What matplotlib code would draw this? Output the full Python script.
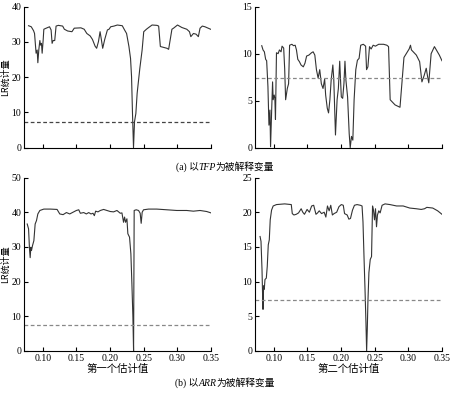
import numpy as np
import matplotlib
matplotlib.use('Agg')
import matplotlib.pyplot as plt
from matplotlib.offsetbox import TextArea, HPacker, AnchoredOffsetbox

plt.rcParams['font.family'] = ['Liberation Serif', 'Noto Sans CJK SC']

# 临界值 (5%)
crit = 7.4

# (a) TFP, 第一个估计值
tfp1_x = [0.0788, 0.0828, 0.0862, 0.0877, 0.0892, 0.0900, 0.0916, 0.0926, 0.0940, 0.0956,
          0.0966, 0.0980, 0.0990, 0.1005, 0.1015, 0.1050, 0.1074, 0.1100, 0.1123, 0.1138,
          0.1153, 0.1177, 0.1197, 0.1231, 0.1295, 0.1320, 0.1370, 0.1433, 0.1467, 0.1566,
          0.1615, 0.1654, 0.1704, 0.1738, 0.1777, 0.1800, 0.1827, 0.1851, 0.1870, 0.1890,
          0.1920, 0.1960, 0.1984, 0.2009, 0.2058, 0.2107, 0.2181, 0.2215, 0.2245, 0.2280,
          0.2304, 0.2319, 0.2333, 0.2348, 0.2363, 0.2383, 0.2402, 0.2442, 0.2476, 0.2500,
          0.2540, 0.2574, 0.2624, 0.2697, 0.2722, 0.2747, 0.2845, 0.2870, 0.2919, 0.2943,
          0.3002, 0.3066, 0.3140, 0.3180, 0.3200, 0.3239, 0.3278, 0.3312, 0.3337, 0.3371,
          0.3410, 0.3494]
tfp1_y = [34.6, 34.3, 33.2, 32.4, 28.7, 26.8, 27.7, 24.1, 27.7, 30.4,
          29.1, 29.6, 26.8, 30.5, 33.6, 33.9, 34.1, 34.3, 33.4, 29.6,
          30.4, 30.4, 34.5, 34.7, 34.5, 33.6, 33.1, 32.9, 33.9, 34.0,
          33.6, 32.4, 31.7, 30.7, 28.8, 28.2, 30.1, 32.9, 30.7, 28.2,
          30.7, 33.4, 33.6, 34.3, 34.5, 34.8, 34.6, 33.4, 32.4, 28.7,
          25.3, 20.1, 9.7, 0.0, 7.4, 9.7, 15.4, 22.5, 27.7, 32.9,
          33.6, 34.1, 34.8, 34.7, 34.5, 28.7, 28.2, 27.9, 33.6, 33.9,
          34.8, 34.1, 33.6, 32.9, 31.5, 32.4, 32.2, 31.5, 33.9, 34.5,
          34.3, 33.6]

# (a) TFP, 第二个估计值
tfp2_x = [0.0820, 0.0839, 0.0859, 0.0878, 0.0893, 0.0912, 0.0927, 0.0942, 0.0951, 0.0966,
          0.0981, 0.0990, 0.1005, 0.1015, 0.1024, 0.1039, 0.1063, 0.1083, 0.1107, 0.1122,
          0.1146, 0.1161, 0.1175, 0.1200, 0.1219, 0.1234, 0.1268, 0.1292, 0.1317, 0.1336,
          0.1356, 0.1380, 0.1404, 0.1438, 0.1463, 0.1487, 0.1521, 0.1560, 0.1584, 0.1609,
          0.1633, 0.1658, 0.1682, 0.1706, 0.1731, 0.1755, 0.1770, 0.1794, 0.1813, 0.1833,
          0.1852, 0.1877, 0.1891, 0.1916, 0.1940, 0.1959, 0.1979, 0.1989, 0.2003, 0.2023,
          0.2042, 0.2057, 0.2071, 0.2096, 0.2120, 0.2135, 0.2154, 0.2174, 0.2193, 0.2218,
          0.2242, 0.2267, 0.2291, 0.2330, 0.2364, 0.2378, 0.2398, 0.2422, 0.2446, 0.2476,
          0.2510, 0.2558, 0.2631, 0.2680, 0.2705, 0.2729, 0.2802, 0.2875, 0.2934, 0.3011,
          0.3031, 0.3045, 0.3118, 0.3167, 0.3201, 0.3235, 0.3265, 0.3289, 0.3303, 0.3338,
          0.3387, 0.3460, 0.3499]
tfp2_y = [10.85, 10.4, 10.2, 9.4, 9.25, 6.5, 2.4, 4.0, 0.1, 3.65,
          7.0, 5.1, 5.6, 5.25, 3.0, 10.1, 10.0, 10.4, 10.2, 10.8,
          10.6, 8.4, 5.1, 6.3, 6.8, 10.9, 11.0, 10.85, 10.9, 10.4,
          9.4, 9.15, 8.8, 8.6, 9.0, 9.75, 9.85, 10.1, 10.2, 9.85,
          8.3, 7.4, 8.3, 6.8, 6.3, 7.3, 5.6, 4.2, 3.7, 5.1,
          7.2, 8.8, 7.2, 1.35, 5.1, 6.3, 9.2, 7.55, 5.4, 5.25,
          6.85, 9.2, 7.2, 5.4, 1.5, 0.0, 1.2, 0.8, 5.1, 8.3,
          9.3, 9.5, 10.9, 11.0, 10.8, 8.3, 8.6, 10.75, 10.5, 10.9,
          10.8, 11.0, 11.0, 10.9, 10.75, 5.1, 4.55, 4.3, 9.6, 10.5,
          10.9, 10.4, 9.85, 9.15, 7.0, 7.7, 8.45, 7.4, 6.9, 10.0,
          10.75, 9.85, 9.25]

# (b) ARR, 第一个估计值
arr1_x = [0.0768, 0.0788, 0.0802, 0.0812, 0.0822, 0.0832, 0.0847, 0.0867, 0.0886, 0.0906,
          0.0926, 0.0956, 0.1015, 0.1114, 0.1212, 0.1252, 0.1301, 0.1351, 0.1400, 0.1459,
          0.1499, 0.1534, 0.1558, 0.1608, 0.1647, 0.1682, 0.1716, 0.1746, 0.1766, 0.1785,
          0.1820, 0.1855, 0.1904, 0.1953, 0.2003, 0.2052, 0.2102, 0.2151, 0.2176, 0.2200,
          0.2215, 0.2230, 0.2250, 0.2264, 0.2289, 0.2309, 0.2324, 0.2339, 0.2349, 0.2358,
          0.2388, 0.2423, 0.2447, 0.2462, 0.2477, 0.2497, 0.2571, 0.2694, 0.2843, 0.2991,
          0.3139, 0.3238, 0.3337, 0.3436, 0.3500]
arr1_y = [36.6, 35.2, 29.4, 26.9, 29.9, 29.0, 30.4, 31.8, 36.6, 37.6,
          39.5, 40.5, 40.9, 40.9, 40.8, 39.5, 39.3, 39.9, 39.5, 40.1,
          40.5, 40.7, 39.7, 39.9, 39.5, 39.9, 39.5, 39.7, 39.0, 40.3,
          40.1, 40.5, 40.8, 40.5, 40.2, 40.1, 40.5, 39.7, 39.8, 37.1,
          38.6, 37.1, 38.1, 33.8, 32.8, 28.0, 19.4, 9.8, 0.0, 40.5,
          40.7, 40.5, 39.7, 36.8, 40.0, 40.7, 40.9, 40.9, 40.7, 40.5,
          40.5, 40.3, 40.5, 40.2, 39.8]

# (b) ARR, 第二个估计值
arr2_x = [0.0795, 0.0809, 0.0824, 0.0834, 0.0839, 0.0848, 0.0858, 0.0868, 0.0888, 0.0902,
          0.0917, 0.0932, 0.0946, 0.0966, 0.0990, 0.1039, 0.1161, 0.1259, 0.1274, 0.1298,
          0.1333, 0.1367, 0.1406, 0.1430, 0.1455, 0.1494, 0.1528, 0.1562, 0.1592, 0.1626,
          0.1650, 0.1675, 0.1709, 0.1748, 0.1773, 0.1797, 0.1822, 0.1846, 0.1870, 0.1895,
          0.1934, 0.1968, 0.2003, 0.2032, 0.2051, 0.2090, 0.2115, 0.2139, 0.2169, 0.2198,
          0.2237, 0.2286, 0.2311, 0.2325, 0.2340, 0.2355, 0.2369, 0.2379, 0.2389, 0.2398,
          0.2413, 0.2433, 0.2452, 0.2467, 0.2481, 0.2496, 0.2511, 0.2526, 0.2540, 0.2560,
          0.2580, 0.2609, 0.2653, 0.2726, 0.2824, 0.2922, 0.3020, 0.3117, 0.3191, 0.3240,
          0.3274, 0.3362, 0.3435, 0.3499]
arr2_y = [16.5, 15.8, 11.7, 7.5, 6.0, 9.4, 8.9, 10.3, 10.5, 12.2,
          15.3, 16.0, 18.9, 20.3, 20.9, 21.1, 21.2, 21.1, 19.8, 19.6,
          19.7, 19.9, 20.5, 20.0, 19.7, 20.4, 20.0, 20.9, 21.0, 19.7,
          19.9, 20.2, 19.8, 20.0, 19.3, 20.9, 20.2, 21.0, 19.6, 19.8,
          20.0, 20.8, 21.1, 21.0, 19.8, 19.6, 19.0, 19.1, 20.3, 21.0,
          21.1, 21.0, 20.9, 18.6, 13.6, 8.9, 4.1, 0.0, 3.2, 7.0,
          11.3, 13.2, 13.6, 20.9, 20.3, 18.9, 20.5, 17.9, 19.6, 20.2,
          19.9, 21.0, 21.2, 21.1, 20.9, 20.9, 20.6, 20.5, 20.4, 20.5,
          20.7, 20.6, 20.2, 19.7]

xticks = [0.10, 0.15, 0.20, 0.25, 0.30, 0.35]
xticklabels = ['0.10', '0.15', '0.20', '0.25', '0.30', '0.35']

fig = plt.figure(figsize=(4.5, 3.93), dpi=100)

panels = [
    # x, y, yticks, ylim, rect, dash color, show x labels, ylabel, xlabel
    (tfp1_x, tfp1_y, [0, 10, 20, 30, 40], 40, [0.0533, 0.6242, 0.4156, 0.3588], '#444444', False, True, None),
    (tfp2_x, tfp2_y, [0, 5, 10, 15], 15, [0.5667, 0.6242, 0.4156, 0.3588], '#888888', False, False, None),
    (arr1_x, arr1_y, [0, 10, 20, 30, 40, 50], 50, [0.0533, 0.1069, 0.4156, 0.4414], '#888888', True, True, '第一个估计值'),
    (arr2_x, arr2_y, [0, 5, 10, 15, 20, 25], 25, [0.5667, 0.1069, 0.4156, 0.4414], '#888888', True, False, '第二个估计值'),
]

for xs, ys, yt, ytop, rect, dcol, showx, showy, xl in panels:
    ax = fig.add_axes(rect)
    ax.plot(xs, ys, color='#333333', lw=0.8)
    ax.axhline(crit, color=dcol, lw=0.9, ls=(0, (3, 2)))
    ax.set_xlim(0.072, 0.35)
    ax.set_ylim(0, ytop)
    ax.set_yticks(yt)
    ax.set_xticks(xticks)
    if showx:
        ax.set_xticklabels(xticklabels)
    else:
        ax.set_xticklabels([])
    ax.spines['top'].set_visible(False)
    ax.spines['right'].set_visible(False)
    ax.spines['left'].set_linewidth(0.8)
    ax.spines['bottom'].set_linewidth(0.8)
    ax.tick_params(direction='in', length=3, width=0.8, labelsize=7, pad=2)
    if showy:
        ax.set_ylabel('LR统计量', fontsize=6.5, family=['Noto Sans CJK SC'])
        ax.yaxis.set_label_coords(-0.075, 0.5)
    if xl:
        ax.set_xlabel(xl, fontsize=7.5, labelpad=1, family=['Noto Sans CJK SC'])


def caption(tag, var, y):
    parts = [TextArea(tag + ' 以', textprops=dict(fontsize=7, family=['Liberation Serif', 'Noto Sans CJK SC'])),
             TextArea(var, textprops=dict(fontsize=7, family=['Liberation Serif'], style='italic')),
             TextArea('为被解释变量', textprops=dict(fontsize=7, family=['Noto Sans CJK SC']))]
    box = HPacker(children=parts, align='baseline', pad=0, sep=0)
    anc = AnchoredOffsetbox(loc='center', child=box, frameon=False, pad=0,
                            bbox_to_anchor=(0.5, y), bbox_transform=fig.transFigure, borderpad=0)
    fig.add_artist(anc)


caption('(a)', 'TFP', 0.575)
caption('(b)', 'ARR', 0.025)

fig.savefig('out.png', dpi=100)
